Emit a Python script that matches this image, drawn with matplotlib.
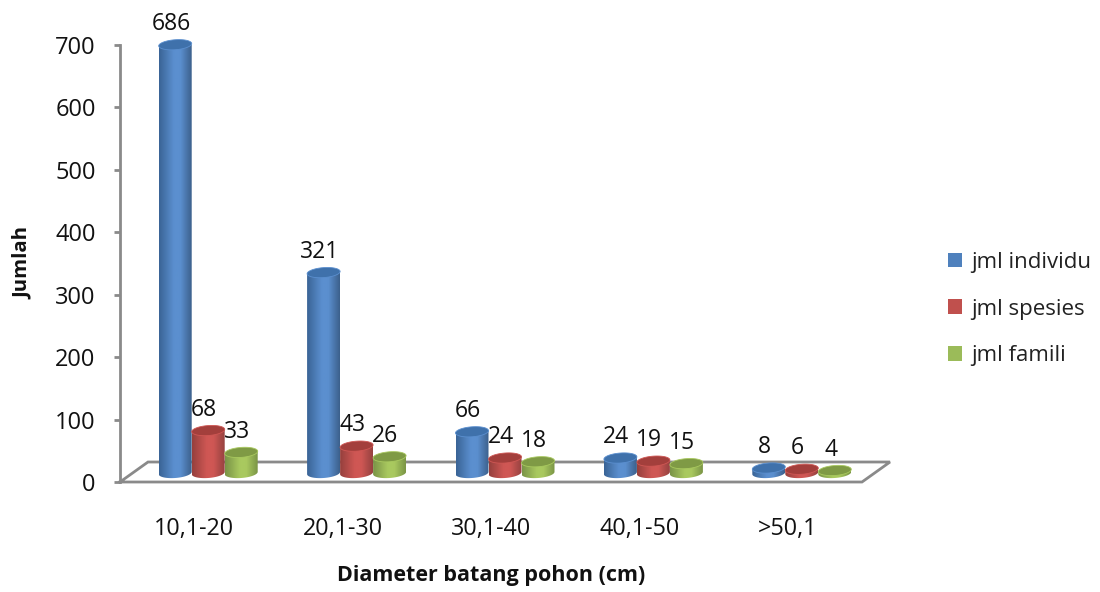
# Jumlah individu, spesies dan famili per kelas diameter, dengan silinder bergaya 3D

import numpy as np
import matplotlib.pyplot as plt
from matplotlib.patches import Patch, PathPatch, Polygon
from matplotlib.path import Path
from matplotlib.colors import LinearSegmentedColormap

plt.rcParams['font.family'] = ['Open Sans', 'DejaVu Sans']

kelas = ['10,1-20', '20,1-30', '30,1-40', '40,1-50', '>50,1']
individu = [686, 321, 66, 24, 8]
spesies = [68, 43, 24, 19, 6]
famili = [33, 26, 18, 15, 4]
nama_seri = ['jml individu', 'jml spesies', 'jml famili']

# warna seri: tepi gelap, tengah terang, sisi kanan, tutup atas
warna = [
    ('#3a6496', '#5b8fcf', '#3c608c', '#3f71ab'),
    ('#96403d', '#cf5754', '#964240', '#a33f3c'),
    ('#7a9447', '#a9c95f', '#7b9546', '#7f9a45'),
]
warna_legenda = ['#4f81bd', '#c0504d', '#9bbb59']

W, H = 1100, 592
X0, X1 = 120, 890       # tepi sumbu dalam piksel
Y0, Y1 = 482, 45
LEBAR_KELAS = 148.4
DEPTH_X, DEPTH_Y = 28, 20
ABU = '#8a8a8a'

fig = plt.figure(figsize=(W / 100, H / 100), dpi=100)
ax = fig.add_axes([X0 / W, 1 - Y0 / H, (X1 - X0) / W, (Y0 - Y1) / H])

px_x = 1 / LEBAR_KELAS
px_y = 700 / (Y0 - Y1)
lebar = 33 * px_x
alas = 9 * px_y
b_elips = 5 * px_y
miring = 0.07 * px_y / px_x


def silinder(x, nilai, warna_seri):
    """Menggambar satu batang silinder dari alas sampai nilai."""
    gelap, terang, kanan, tutup = warna_seri
    a = lebar / 2
    puncak = alas + nilai
    t = np.linspace(0, np.pi, 40)

    # badan: sisi atas lurus, sisi bawah mengikuti busur elips
    xs = x + a * np.cos(t)
    bawah = alas - b_elips * np.sin(t) + miring * (xs - x)
    kiri_y = puncak - miring * a
    kanan_y = puncak + miring * a
    pts = np.column_stack([xs[::-1], bawah[::-1]])
    pts = np.vstack([[x - a, kiri_y], pts, [x + a, kanan_y], [x - a, kiri_y]])
    badan = PathPatch(Path(pts), transform=ax.transData, fc='none', ec='none', clip_on=False)
    ax.add_patch(badan)

    cmap = LinearSegmentedColormap.from_list(
        'g', [(0, gelap), (0.45, terang), (0.65, terang), (1, kanan)])
    img = ax.imshow(np.linspace(0, 1, 64).reshape(1, -1), cmap=cmap, aspect='auto',
                    extent=(x - a, x + a, alas - 2 * b_elips, puncak + 2 * b_elips),
                    interpolation='bilinear', zorder=3)
    img.set_clip_path(badan)

    # tutup atas
    t = np.linspace(0, 2 * np.pi, 80)
    xs = x + a * np.cos(t)
    ys = puncak + b_elips * np.sin(t) + miring * (xs - x)
    ax.add_patch(Polygon(np.column_stack([xs, ys]), closed=True, fc=tutup,
                         ec=terang, lw=0.6, zorder=3, clip_on=False))


# lantai dan dinding sumbu
titik_x = [0, 742 * px_x, (742 + DEPTH_X) * px_x, DEPTH_X * px_x]
titik_y = [0, 0, DEPTH_Y * px_y, DEPTH_Y * px_y]
ax.plot(titik_x + titik_x[:1], titik_y + titik_y[:1], color=ABU, lw=2,
        clip_on=False, zorder=1, solid_joinstyle='miter')

semua_seri = [individu, spesies, famili]
pos = np.arange(len(kelas)) + 0.5
for j, seri in enumerate(semua_seri):
    for i, nilai in enumerate(seri):
        x = pos[i] + (14 + (j - 1) * 33) * px_x
        silinder(x, nilai, warna[j])
        ax.annotate(str(nilai), (x, alas + nilai), xytext=(-3, 15), textcoords='offset points',
                    ha='center', va='center', fontsize=16.5, color='#111111',
                    annotation_clip=False, zorder=5)

ax.set_xlim(0, (X1 - X0) * px_x)
ax.set_ylim(0, 700)
ax.patch.set_alpha(0)
for s in ['top', 'right', 'bottom']:
    ax.spines[s].set_visible(False)
ax.spines['left'].set_color(ABU)
ax.spines['left'].set_linewidth(2)

ax.set_yticks(np.arange(0, 701, 100))
ax.tick_params(axis='y', length=4.5, width=2, color=ABU, pad=13, labelsize=17, labelcolor='#111111')
ax.set_xticks(pos)
ax.set_xticklabels(kelas)
ax.tick_params(axis='x', length=0, pad=25, labelsize=16.8, labelcolor='#111111')

fig.text(491 / W, 1 - 576 / H, 'Diameter batang pohon (cm)', ha='center', va='center',
         fontsize=15.5, fontweight='bold', color='#111111')
fig.text(23 / W, 1 - 263 / H, 'Jumlah', ha='center', va='center', rotation=90,
         fontsize=14.6, fontweight='bold', color='#111111')

handles = [Patch(fc=c, ec='none') for c in warna_legenda]
fig.legend(handles, nama_seri, loc='center left', bbox_to_anchor=(928 / W, 1 - 309 / H),
           frameon=False, fontsize=16, handlelength=0.64, handleheight=0.64,
           handletextpad=0.4, labelspacing=1.15, labelcolor='#222222')

fig.savefig('out.png', dpi=100)
